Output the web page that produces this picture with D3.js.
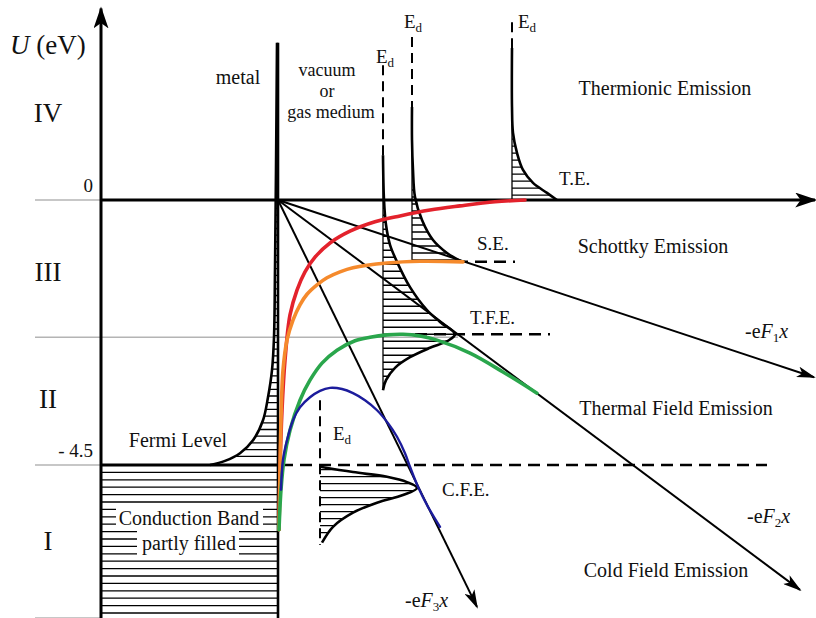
<!DOCTYPE html>
<html>
<head>
<meta charset="utf-8">
<script src="https://cdn.jsdelivr.net/npm/d3@7"></script>
<style>
body { margin: 0; background: #fff; }
svg { display: block; font-family: "Liberation Serif", "Times New Roman", serif; }
</style>
</head>
<body>
<div id="chart"></div>
<script>
// energy axis (eV) : labelled levels and region boundaries
var levelTicks = [0, -4.5];
var levelLabels = ["0", "- 4.5"];
var regionBounds = [0, -2.33, -4.5, -7.1];
var regionNames = ["IV", "III", "II", "I"];

// distance from the metal surface (arbitrary units), energy U (eV)
var metalDist = [[-0.1,2.67],[-0.2,0.51],[-0.3,-1.19],[-0.4,-2.33],[-0.6,-2.89],[-1.0,-3.35],
  [-1.5,-3.74],[-2.5,-4.08],[-3.8,-4.30],[-5.3,-4.43],[-6.8,-4.5]];

// potential barriers for the four regimes
var teCurve = [[0.1,-5.6],[0.2,-4.58],[0.4,-3.57],[0.7,-2.72],[1.2,-1.95],[1.9,-1.53],[2.7,-1.22],
  [3.7,-0.97],[5.2,-0.73],[7.2,-0.53],[9.7,-0.37],[12.2,-0.27],[15.2,-0.17],[18.2,-0.10],[21.7,-0.03],[24.7,0]];
var seCurve = [[0.1,-5.6],[0.2,-4.58],[0.3,-3.74],[0.5,-2.89],[0.9,-2.38],[1.5,-2.04],[2.2,-1.78],
  [2.9,-1.60],[3.9,-1.44],[4.9,-1.32],[6.2,-1.22],[7.5,-1.15],[10.9,-1.07],[14.2,-1.04],[18.5,-1.05]];
var tfeCurve = [[0.1,-5.6],[0.3,-4.92],[0.6,-4.41],[1.2,-3.91],[2.2,-3.40],[3.2,-3.06],[4.4,-2.77],
  [5.9,-2.55],[7.7,-2.39],[9.2,-2.33],[10.9,-2.29],[12.5,-2.28],[14.2,-2.31],[15.9,-2.38],[19.2,-2.60],
  [22.5,-2.92],[25.9,-3.28]];
var cfeCurve = [[0.3,-4.92],[0.5,-4.41],[0.9,-4.08],[1.5,-3.74],[2.2,-3.52],[3.2,-3.35],[4.2,-3.24],
  [5.2,-3.19],[6.4,-3.21],[7.5,-3.28],[8.7,-3.40],[9.9,-3.57],[11.0,-3.79],[11.9,-4.02],[12.7,-4.30],
  [13.2,-4.53],[14.0,-4.87],[15.0,-5.21],[16.2,-5.55]];

// energy distributions of emitted electrons
var teDist = [[23.4,2.58],[23.4,1.58],[23.5,1.14],[23.9,0.80],[24.5,0.51],[25.5,0.29],[26.9,0.12],[27.9,0]];
var seDist = [[13.4,1.58],[13.4,1.02],[13.5,0.51],[13.7,0.05],[14.4,-0.34],[15.5,-0.68],[16.9,-0.90],[18.4,-1.05]];
var tfeDist = [[10.5,0.76],[10.6,0],[10.8,-0.42],[11.2,-0.76],[11.9,-1.05],[13.2,-1.48],[14.9,-1.87],
  [16.2,-2.07],[17.7,-2.28],[17.0,-2.39],[15.2,-2.51],[13.2,-2.67],[11.7,-2.85],[10.8,-3.06],[10.5,-3.23]];
var cfeDist = [[4.2,-4.53],[7.5,-4.62],[10.9,-4.70],[12.9,-4.79],[13.9,-4.89],[12.5,-5.01],[9.9,-5.14],
  [7.5,-5.31],[5.5,-5.55],[4.4,-5.82]];

// E_d axes of the distributions: position, dashed part top / bottom
var edAxisX = [23.4, 13.4, 10.5, 4.2];
var edDashTop = [3.02, 2.77, 2.29, -3.40];
var edDashBottom = [2.58, 1.58, 0.76, -5.86];

// -eFx lines from the surface, end points
var fieldNames = ["1", "2", "3"];
var fieldEnds = [[53.6,-3.01],[52.2,-6.62],[19.9,-6.91]];

var W = 816, H = 618;
var x = d3.scaleLinear().domain([0, 10]).range([278, 378]);
var y = d3.scaleLinear().domain([0, -4.5]).range([200, 465]);
var xAxisAt = -17.7, xLeft = -24.3, xRight = 53.7;
var uTop = 3.25, uBottom = -7.1;

var svg = d3.select("#chart").append("svg").attr("width", W).attr("height", H);
var defs = svg.append("defs");

function marker(id, w, h) {
  defs.append("marker").attr("id", id).attr("viewBox", "0 0 10 10")
    .attr("refX", 9).attr("refY", 5).attr("preserveAspectRatio", "none")
    .attr("markerUnits", "userSpaceOnUse").attr("markerWidth", w).attr("markerHeight", h)
    .attr("orient", "auto")
    .append("path").attr("d", "M0,0L10,5L0,10L2.5,5Z").attr("fill", "#000");
}
marker("arrowBig", 22, 15);
marker("arrow", 19, 11);

var line = d3.line().x(function(d) { return x(d[0]); }).y(function(d) { return y(d[1]); })
  .curve(d3.curveCatmullRom.alpha(0.5));

function seg(g, x1, u1, x2, u2) {
  return g.append("line").attr("x1", x(x1)).attr("y1", y(u1)).attr("x2", x(x2)).attr("y2", y(u2));
}

// gray region boundaries
var gGray = svg.append("g").attr("stroke", "#b4b4b4").attr("stroke-width", 1.5);
regionBounds.forEach(function(u) {
  seg(gGray, xLeft, u, u === -2.33 ? 18 : xAxisAt, u);
});

// hatching helper: horizontal lines clipped to a distribution
function hatch(id, pts, closing, uFrom, uTo, step, x1, x2) {
  var d = line(pts) + closing.map(function(p) { return "L" + x(p[0]) + "," + y(p[1]); }).join("") + "Z";
  defs.append("clipPath").attr("id", id).append("path").attr("d", d);
  var g = svg.append("g").attr("clip-path", "url(#" + id + ")").attr("stroke", "#000").attr("stroke-width", 1.3);
  d3.range(y(uFrom), y(uTo) + 0.5, step).forEach(function(py) {
    g.append("line").attr("x1", x(x1)).attr("x2", x(x2)).attr("y1", py).attr("y2", py);
  });
}

hatch("hMetal", metalDist, [[0,-4.5],[0,2.67]], 0.54, -4.45, 6.7, -8, 0);
hatch("hTE", teDist, [[23.4,0]], 1.27, 0, 7, 23, 29);
hatch("hSE", seDist, [[13.4,-1.05]], 0.17, -1.05, 7, 13, 19);
hatch("hTFE", tfeDist, [], -0.14, -3.14, 7, 10, 18);
hatch("hCFE", cfeDist, [[4.2,-5.82]], -4.58, -5.75, 7, 4, 15);

// conduction band
var gCB = svg.append("g").attr("stroke", "#000").attr("stroke-width", 1.3);
d3.range(y(-4.5) + 7.4, y(uBottom) + 1, 7.4).forEach(function(py) {
  gCB.append("line").attr("x1", x(xAxisAt)).attr("x2", x(0)).attr("y1", py).attr("y2", py);
});

// E_d axes
var gEd = svg.append("g").attr("stroke", "#000").attr("stroke-width", 2).attr("fill", "none");
edAxisX.forEach(function(ex, i) {
  seg(gEd, ex, edDashTop[i], ex, edDashBottom[i]).attr("stroke-dasharray", "10,6");
});
seg(gEd, edAxisX[0], 1.3, edAxisX[0], 0).attr("stroke-width", 1.3);
seg(gEd, edAxisX[1], 1.58, edAxisX[1], -1.05).attr("stroke-width", 1.3);
seg(gEd, edAxisX[2], 0.76, edAxisX[2], -3.2).attr("stroke-width", 1.3);

// dashed barrier tops and Fermi level
var gDash = svg.append("g").attr("stroke", "#000").attr("stroke-width", 2.5).attr("stroke-dasharray", "12,7");
seg(gDash, 15.9, -1.05, 23.7, -1.05);
seg(gDash, 13.7, -2.28, 27.2, -2.28);
seg(gDash, 0.3, -4.5, 48.9, -4.5);

// -eFx lines
var gField = svg.append("g").attr("stroke", "#000").attr("stroke-width", 2);
fieldEnds.forEach(function(e) {
  seg(gField, 0, 0, e[0], e[1]).attr("marker-end", "url(#arrow)");
});

// distributions
var gDist = svg.append("g").attr("fill", "none").attr("stroke", "#000").attr("stroke-width", 2.6);
[metalDist, teDist, seDist, tfeDist, cfeDist].forEach(function(p) {
  gDist.append("path").attr("d", line(p));
});

// axes, surface, Fermi level of the metal
var gAx = svg.append("g").attr("stroke", "#000").attr("stroke-width", 3);
seg(gAx, 0, 2.67, 0, uBottom).attr("stroke-width", 2.6);
seg(gAx, xAxisAt, -4.5, 0, -4.5);
seg(gAx, xAxisAt, uBottom, xAxisAt, uTop).attr("marker-end", "url(#arrowBig)");
seg(gAx, xAxisAt, 0, xRight, 0).attr("marker-end", "url(#arrowBig)");

// potential barriers
var colors = ["#e3222c", "#f58a2c", "#2aa64c", "#1c1c9c"];
var widths = [3.6, 3.6, 3.6, 2.4];
[teCurve, seCurve, tfeCurve, cfeCurve].forEach(function(p, i) {
  svg.append("path").attr("d", line(p)).attr("fill", "none")
    .attr("stroke", colors[i]).attr("stroke-width", widths[i]).attr("stroke-linecap", "round");
});

// ---- texts ----
function text(px, py, str, size, anchor) {
  return svg.append("text").attr("x", px).attr("y", py).attr("font-size", size)
    .attr("text-anchor", anchor || "start").attr("fill", "#111").text(str);
}

var t = text(10, 54, "", 27);
t.append("tspan").attr("font-style", "italic").text("U");
t.append("tspan").text(" (eV)");

levelTicks.forEach(function(v, i) {
  text(93, y(v) - 8, levelLabels[i], 19, "end");
});
var regionLabelU = [1.33, -1.38, -3.53, -5.95];
regionNames.forEach(function(n, i) {
  text(48, y(regionLabelU[i]), n, 27, "middle");
});

text(238, 84, "metal", 20, "middle");
text(327, 76, "vacuum", 18, "middle");
text(327, 97, "or", 18, "middle");
text(331, 118, "gas medium", 18, "middle");
text(178, 447, "Fermi Level", 20, "middle");

svg.append("rect").attr("x", 116).attr("y", 506).attr("width", 147).attr("height", 24).attr("fill", "#fff");
svg.append("rect").attr("x", 137).attr("y", 530).attr("width", 102).attr("height", 28).attr("fill", "#fff");
text(189, 525, "Conduction Band", 20, "middle");
text(189, 550, "partly filled", 20, "middle");

text(665, 95, "Thermionic Emission", 20, "middle");
text(653, 253, "Schottky Emission", 20, "middle");
text(676, 415, "Thermal Field Emission", 20, "middle");
text(666, 577, "Cold Field Emission", 20, "middle");

text(559, 185, "T.E.", 19);
text(477, 250, "S.E.", 19);
text(470, 324, "T.F.E.", 19);
text(442, 496, "C.F.E.", 19);

function ed(px, py) {
  var e = text(px, py, "E", 19);
  e.append("tspan").attr("font-size", 13).attr("dy", 4).text("d");
}
ed(518, 28);
ed(404, 28);
ed(376, 63);
ed(333, 440);

function fieldLabel(px, py, n) {
  var e = text(px, py, "-e", 20);
  e.append("tspan").attr("font-style", "italic").text("F");
  e.append("tspan").attr("font-size", 13).attr("dy", 4).text(n);
  e.append("tspan").attr("font-style", "italic").attr("dy", -4).text("x");
}
fieldLabel(745, 338, fieldNames[0]);
fieldLabel(747, 523, fieldNames[1]);
fieldLabel(405, 607, fieldNames[2]);
</script>
</body>
</html>
